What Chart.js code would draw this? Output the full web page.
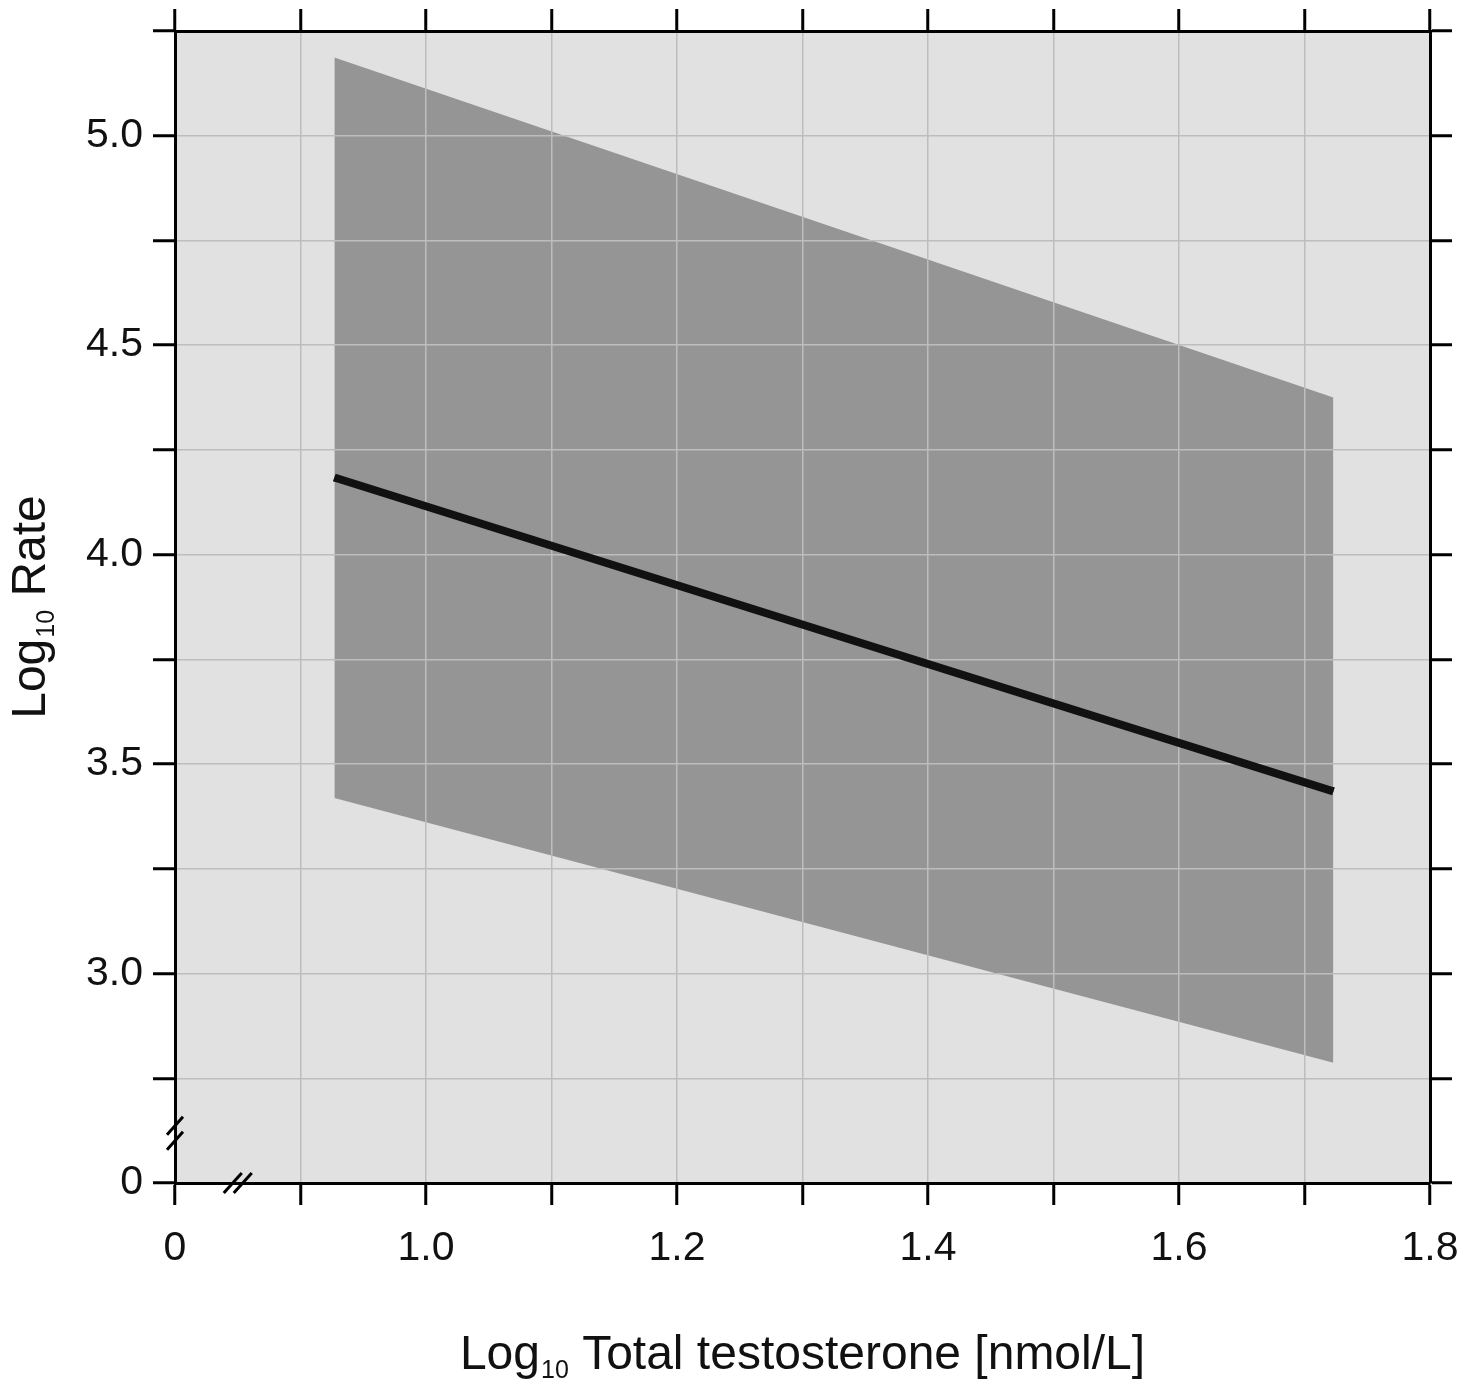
<!DOCTYPE html>
<html>
<head>
<meta charset="utf-8">
<title>Log10 Rate vs Log10 Total testosterone</title>
<script src="https://cdn.jsdelivr.net/npm/chart.js"></script>
<style>
  html, body { margin: 0; padding: 0; background: #fff; }
</style>
</head>
<body>
<canvas id="chart" width="1471" height="1382"></canvas>
<script>
// where the fitted line and its band start and stop (log10 nmol/L)
const xEnds = [0.927, 1.723];
// fitted line and the upper / lower edge of the shaded band (log10 rate)
const fitLine = [4.184, 3.435];
const bandUpper = [5.187, 4.375];
const bandLower = [3.419, 2.787];

// ticks - the lowest value on each axis is shown as "0" (broken axis)
const xTicks = [0.8, 0.9, 1.0, 1.1, 1.2, 1.3, 1.4, 1.5, 1.6, 1.7, 1.8];
const xTickLabels = ['0', '', '1.0', '', '1.2', '', '1.4', '', '1.6', '', '1.8'];
const yTicks = [2.5, 2.75, 3.0, 3.25, 3.5, 3.75, 4.0, 4.25, 4.5, 4.75, 5.0, 5.25];
const yTickLabels = ['0', '', '3.0', '', '3.5', '', '4.0', '', '4.5', '', '5.0', ''];

const fontFamily = "'Liberation Sans', Arial, Helvetica, sans-serif";
const tickFont = { family: fontFamily, size: 41 };
const frame = { display: true, color: '#000', width: 3, z: 2 };

const toPoints = (ys) => xEnds.map((x, i) => ({ x: x, y: ys[i] }));

function gridOpts(onArea) {
  return {
    drawOnChartArea: onArea,
    color: '#bdbdbd',
    lineWidth: 1.5,
    tickColor: '#000',
    tickWidth: 3,
    tickLength: 22,
    z: 1,
  };
}

// fixed axis box size, and no extra label padding pushed into the layout
function fixSize(prop, size) {
  return s => {
    s[prop] = size;
    s.paddingTop = s.paddingBottom = s.paddingLeft = s.paddingRight = 0;
  };
}

// light grey plot area
const plotBackground = {
  id: 'plotBackground',
  beforeDraw(chart) {
    const { ctx, chartArea } = chart;
    ctx.save();
    ctx.fillStyle = '#e1e1e1';
    ctx.fillRect(chartArea.left, chartArea.top, chartArea.right - chartArea.left, chartArea.bottom - chartArea.top);
    ctx.restore();
  },
};

// draws "Log" + subscript "10" + rest, centred on (cx, baseline)
function drawLogTitle(ctx, rest, cx, baseline) {
  const main = '48px ' + fontFamily;
  const sub = '25px ' + fontFamily;
  ctx.font = main;
  const wLog = ctx.measureText('Log').width;
  const wRest = ctx.measureText(rest).width;
  ctx.font = sub;
  const wSub = ctx.measureText('10').width + 1;
  let x = cx - (wLog + wSub + wRest) / 2;
  ctx.textAlign = 'left';
  ctx.textBaseline = 'alphabetic';
  ctx.fillStyle = '#111';
  ctx.font = main;
  ctx.fillText('Log', x, baseline);
  x += wLog;
  ctx.font = sub;
  ctx.fillText('10', x + 1, baseline + 9);
  x += wSub;
  ctx.font = main;
  ctx.fillText(rest, x, baseline);
}

const extras = {
  id: 'extras',
  afterDraw(chart) {
    const { ctx, chartArea, scales } = chart;

    // fitted line goes back on top of the grid
    chart.getDatasetMeta(2).controller.draw();

    ctx.save();
    // axis break marks
    ctx.strokeStyle = '#000';
    ctx.lineWidth = 3;
    const bx = scales.x.getPixelForValue(0.85);
    const by = scales.y.getPixelForValue(2.62);
    const L = chartArea.left;
    const B = chartArea.bottom;
    [-7, 8].forEach(d => {
      ctx.beginPath();
      ctx.moveTo(L - 8, by + d + 9);
      ctx.lineTo(L + 8, by + d - 9);
      ctx.stroke();
    });
    [-5, 5].forEach(d => {
      ctx.beginPath();
      ctx.moveTo(bx + d - 9, B + 10);
      ctx.lineTo(bx + d + 9, B - 10);
      ctx.stroke();
    });

    // axis titles
    const midX = (chartArea.left + chartArea.right) / 2;
    const midY = (chartArea.top + chartArea.bottom) / 2;
    drawLogTitle(ctx, ' Total testosterone [nmol/L]', midX, 1369);
    ctx.translate(45, midY);
    ctx.rotate(-Math.PI / 2);
    drawLogTitle(ctx, ' Rate', 0, 0);
    ctx.restore();
  },
};

new Chart(document.getElementById('chart').getContext('2d'), {
  type: 'line',
  data: {
    datasets: [
      {
        label: 'upper',
        data: toPoints(bandUpper),
        borderColor: 'rgba(0,0,0,0)',
        borderWidth: 0,
        pointRadius: 0,
        fill: '+1',
        backgroundColor: '#959595',
      },
      {
        label: 'lower',
        data: toPoints(bandLower),
        borderColor: 'rgba(0,0,0,0)',
        borderWidth: 0,
        pointRadius: 0,
        fill: false,
      },
      {
        label: 'fit',
        data: toPoints(fitLine),
        borderColor: '#111',
        borderWidth: 8,
        borderCapStyle: 'butt',
        pointRadius: 0,
        fill: false,
      },
    ],
  },
  options: {
    responsive: false,
    animation: false,
    events: [],
    layout: { padding: 0, autoPadding: false },
    plugins: {
      legend: { display: false },
      tooltip: { enabled: false },
    },
    scales: {
      x: {
        type: 'linear',
        position: 'bottom',
        min: 0.8,
        max: 1.8,
        afterBuildTicks: s => { s.ticks = xTicks.map(v => ({ value: v })); },
        afterFit: fixSize('height', 199),
        grid: gridOpts(true),
        border: frame,
        ticks: {
          autoSkip: false,
          maxRotation: 0,
          padding: 19,
          color: '#111',
          font: tickFont,
          callback: (v, i) => xTickLabels[i],
        },
      },
      xTop: {
        type: 'linear',
        position: 'top',
        min: 0.8,
        max: 1.8,
        afterBuildTicks: s => { s.ticks = xTicks.map(v => ({ value: v })); },
        afterFit: fixSize('height', 31),
        grid: gridOpts(false),
        border: frame,
        ticks: { display: false, autoSkip: false },
      },
      y: {
        type: 'linear',
        position: 'left',
        min: 2.5,
        max: 5.25,
        afterBuildTicks: s => { s.ticks = yTicks.map(v => ({ value: v })); },
        afterFit: fixSize('width', 175),
        grid: gridOpts(true),
        border: frame,
        ticks: {
          autoSkip: false,
          padding: 10,
          color: '#111',
          font: tickFont,
          callback: (v, i) => yTickLabels[i],
        },
      },
      yRight: {
        type: 'linear',
        position: 'right',
        min: 2.5,
        max: 5.25,
        afterBuildTicks: s => { s.ticks = yTicks.map(v => ({ value: v })); },
        afterFit: fixSize('width', 41),
        grid: gridOpts(false),
        border: frame,
        ticks: { display: false, autoSkip: false },
      },
    },
  },
  plugins: [plotBackground, extras],
});
</script>
</body>
</html>
